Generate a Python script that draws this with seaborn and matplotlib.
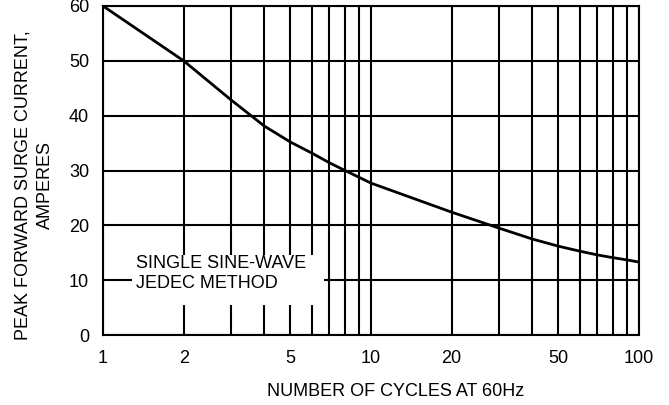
import matplotlib
matplotlib.use("Agg")
import matplotlib.pyplot as plt
import matplotlib.patches as mpatches
from matplotlib.ticker import FixedLocator, NullFormatter, FixedFormatter
import seaborn as sns
import pandas as pd

# Data
cycles = [1, 2, 3, 4, 5, 6, 7, 8, 10, 20, 30, 40, 50, 60, 70, 80, 90, 100]
current = [60, 50, 42.9, 38.1, 35.2, 33.2, 31.4, 30.0, 27.7, 22.4, 19.5, 17.5,
           16.2, 15.3, 14.6, 14.1, 13.7, 13.3]
x_major = [1, 2, 5, 10, 20, 50, 100]
x_major_labels = ["1", "2", "5", "10", "20", "50", "100"]
x_minor = [3, 4, 6, 7, 8, 9, 30, 40, 60, 70, 80, 90]
y_ticks = [0, 10, 20, 30, 40, 50, 60]
note_text = "SINGLE SINE-WAVE\nJEDEC METHOD"
x_label = "NUMBER OF CYCLES AT 60Hz"
y_label = "PEAK FORWARD SURGE CURRENT,\nAMPERES"

sns.set_style("white")
plt.rcParams["font.family"] = ["Liberation Sans", "DejaVu Sans"]

df = pd.DataFrame({"cycles": cycles, "current": current})

fig = plt.figure(figsize=(6.69, 4.05), dpi=100)
ax = fig.add_axes([103 / 669, 1 - 335 / 405, 536 / 669, 329 / 405])

sns.lineplot(data=df, x="cycles", y="current", ax=ax, color="black",
             linewidth=2.0, zorder=4)

ax.set_xscale("log")
ax.set_xlim(1, 100)
ax.set_ylim(0, 60)
ax.xaxis.set_major_locator(FixedLocator(x_major))
ax.xaxis.set_major_formatter(FixedFormatter(x_major_labels))
ax.xaxis.set_minor_locator(FixedLocator(x_minor))
ax.xaxis.set_minor_formatter(NullFormatter())
ax.set_yticks(y_ticks)
ax.set_yticklabels([str(v) for v in y_ticks])

ax.set_axisbelow(True)
ax.grid(True, which="both", axis="x", color="black", linewidth=1.5)
ax.grid(True, which="major", axis="y", color="black", linewidth=1.5)

for sp in ax.spines.values():
    sp.set_visible(True)
    sp.set_color("black")
    sp.set_linewidth(1.5)

ax.tick_params(axis="both", which="both", length=0, labelsize=13, colors="black")
ax.tick_params(axis="x", pad=11)
ax.tick_params(axis="y", pad=10)

ax.set_xlabel(x_label, fontsize=13, color="black")
ax.xaxis.set_label_coords((396 - 103) / 536, -(391 - 335) / 329)
ax.xaxis.label.set_va("center")
ax.set_ylabel(y_label, fontsize=13, color="black", multialignment="center",
              linespacing=1.4)
ax.yaxis.set_label_coords((34.5 - 103) / 536, (335 - 185) / 329)
ax.yaxis.label.set_va("center")

rect = mpatches.Rectangle(((132 - 103) / 536, (335 - 305) / 329),
                          (324 - 132) / 536, (305 - 255) / 329,
                          transform=ax.transAxes, facecolor="white",
                          edgecolor="none", zorder=1)
ax.add_patch(rect)
ax.text((136 - 103) / 536, (335 - 255.5) / 329, note_text,
        transform=ax.transAxes, ha="left", va="top", fontsize=13,
        color="black", zorder=3, linespacing=1.2)

fig.savefig("out.png", dpi=100)
